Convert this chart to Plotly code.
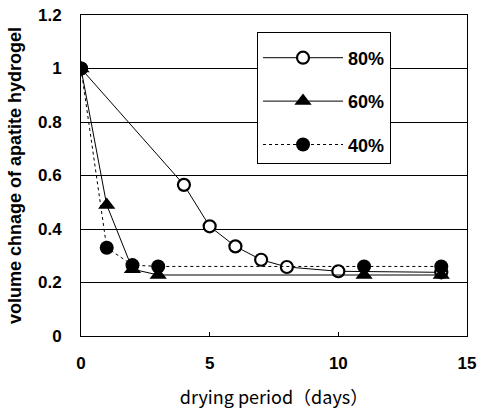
import plotly.graph_objects as go

days_80 = [0, 4, 5, 6, 7, 8, 10, 14]
vol_80 = [1.0, 0.565, 0.41, 0.335, 0.285, 0.258, 0.242, 0.238]
days_60 = [0, 1, 2, 3, 11, 14]
vol_60 = [1.0, 0.49, 0.25, 0.228, 0.228, 0.228]
days_40 = [0, 1, 2, 3, 11, 14]
vol_40 = [1.0, 0.33, 0.265, 0.26, 0.26, 0.26]
x_ticks = [0, 5, 10, 15]
y_ticks = [0, 0.2, 0.4, 0.6, 0.8, 1.0, 1.2]
y_tick_text = ["0", "0.2", "0.4", "0.6", "0.8", "1", "1.2"]

FONT = "Liberation Sans, Arial, sans-serif"
JFONT = "Noto Sans CJK JP, sans-serif"

fig = go.Figure()
fig.add_trace(go.Scatter(
    x=days_80, y=vol_80, name="80%", mode="lines+markers", legendgroup="a",
    line=dict(color="black", width=1),
    marker=dict(symbol="circle", size=12, color="white", line=dict(color="black", width=2.2)),
))
fig.add_trace(go.Scatter(
    x=days_60, y=vol_60, name="60%", mode="lines+markers", legendgroup="b",
    line=dict(color="black", width=1),
    marker=dict(symbol="triangle-up", size=15, color="black", line=dict(color="black", width=0)),
))
fig.add_trace(go.Scatter(
    x=days_40, y=vol_40, name="40%", mode="lines+markers", legendgroup="c",
    line=dict(color="black", width=1, dash="dot"),
    marker=dict(symbol="circle", size=14, color="black", line=dict(color="black", width=0)),
))

fig.update_layout(
    width=479, height=409,
    margin=dict(l=81, r=12, t=15, b=73),
    paper_bgcolor="white", plot_bgcolor="white",
    font=dict(family=FONT, color="black", size=17, weight="bold"),
    showlegend=True,
    legend=dict(
        x=0.456, y=0.947, xanchor="left", yanchor="top",
        bgcolor="white", bordercolor="black", borderwidth=1,
        font=dict(family=FONT, size=18, color="black", weight="bold"),
        itemwidth=80, tracegroupgap=17, traceorder="grouped",
        title=dict(text=" ", font=dict(size=5)),
    ),
    xaxis=dict(
        range=[0, 15], tickvals=x_ticks, ticks="inside", ticklen=4, tickcolor="black",
        showgrid=False, zeroline=False, showline=True, linecolor="black", linewidth=1,
        mirror=True, tickfont=dict(size=17, weight="bold"), automargin=False,
        ticklabelstandoff=12, ticklabeloverflow="allow",
        title=dict(text="drying period（days）", font=dict(family=JFONT, size=18, weight="normal"), standoff=20),
    ),
    yaxis=dict(
        range=[0, 1.2], tickvals=y_ticks, ticktext=y_tick_text, ticks="",
        showgrid=True, gridcolor="black", gridwidth=1, zeroline=False,
        showline=True, linecolor="black", linewidth=1, mirror=True,
        tickfont=dict(size=17, weight="bold"), ticklabelstandoff=15, automargin=False,
        ticklabeloverflow="allow",
        title=dict(text="volume chnage of apatite hydrogel", font=dict(family=FONT, size=18, weight="bold"), standoff=11),
    ),
)

fig.write_html(
    "out.html",
    config={"displayModeBar": False},
    post_script="document.body.style.margin='0';document.body.style.overflow='hidden';",
)
